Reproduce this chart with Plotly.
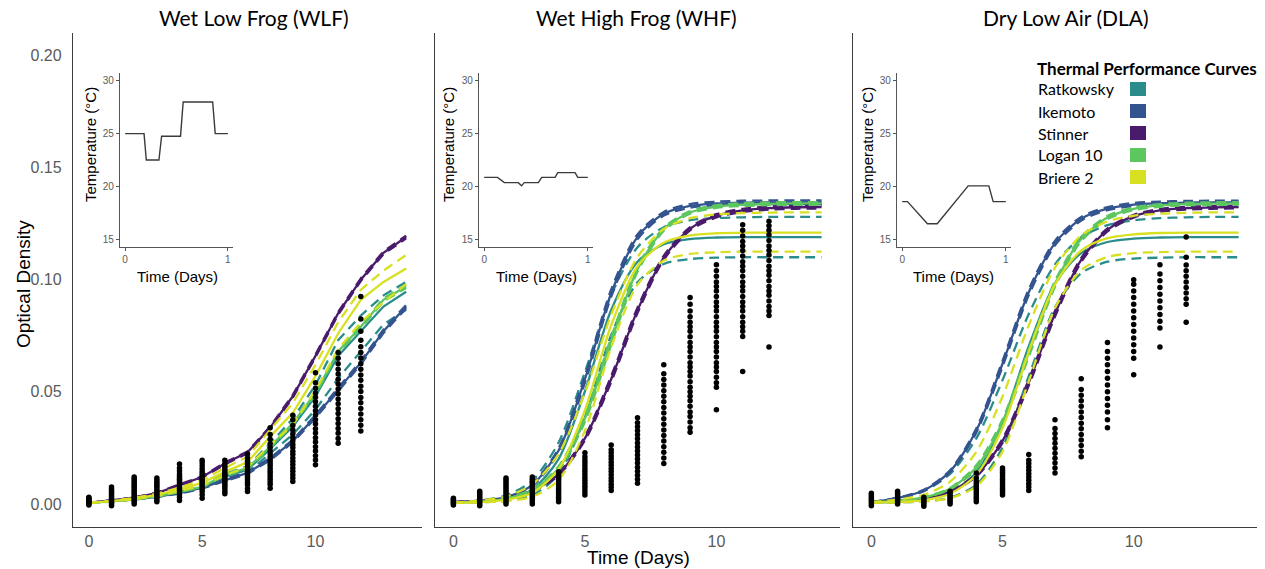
import plotly.graph_objects as go

W, H = 1265, 569

# ---------------- data ----------------
days = list(range(15))            # model prediction days
obs_days = list(range(13))        # observation days

models = ["Ratkowsky", "Ikemoto", "Stinner", "Logan 10", "Briere 2"]
model_colors = ["#2A8D8B", "#34548F", "#4A1B6C", "#5CC65F", "#D8E022"]
panel_titles = ["Wet Low Frog (WLF)", "Wet High Frog (WHF)", "Dry Low Air (DLA)"]

# inset temperature profiles (time in days, temperature in C)
wlf_temp_t = [0, 0.184, 0.206, 0.329, 0.355, 0.539, 0.565, 0.852, 0.877, 1.0]
wlf_temp = [25, 25, 22.5, 22.5, 24.75, 24.75, 28, 28, 25, 25]
whf_temp_t = [0, 0.129, 0.194, 0.329, 0.361, 0.387, 0.523, 0.555, 0.684, 0.71, 0.877, 0.903, 1.0]
whf_temp = [20.85, 20.85, 20.35, 20.35, 20.05, 20.35, 20.35, 20.85, 20.85, 21.3, 21.3, 20.85, 20.85]
dla_temp_t = [0, 0.051, 0.244, 0.338, 0.637, 0.836, 0.878, 1.0]
dla_temp = [18.55, 18.55, 16.45, 16.45, 20.05, 20.05, 18.55, 18.55]

# ---- WLF model curves (mid = solid, lo / hi = dashed) ----
wlf_ratkowsky_mid = [0.0005, 0.0011, 0.0020, 0.0033, 0.0052, 0.0073, 0.0122, 0.0152, 0.0245, 0.0345, 0.0480, 0.0660, 0.0770, 0.0880, 0.0946]
wlf_ratkowsky_lo = [0.0005, 0.0010, 0.0019, 0.0031, 0.0049, 0.0068, 0.0112, 0.0140, 0.0225, 0.0310, 0.0420, 0.0560, 0.0680, 0.0800, 0.0866]
wlf_ratkowsky_hi = [0.0005, 0.0012, 0.0022, 0.0036, 0.0057, 0.0080, 0.0133, 0.0168, 0.0270, 0.0380, 0.0530, 0.0730, 0.0840, 0.0930, 0.0990]
wlf_ikemoto_mid = [0.0005, 0.0012, 0.0022, 0.0032, 0.0048, 0.0072, 0.0105, 0.0138, 0.0200, 0.0280, 0.0390, 0.0510, 0.0630, 0.0770, 0.0880]
wlf_ikemoto_lo = [0.0005, 0.0012, 0.0021, 0.0031, 0.0046, 0.0069, 0.0101, 0.0134, 0.0195, 0.0274, 0.0383, 0.0502, 0.0622, 0.0762, 0.0873]
wlf_ikemoto_hi = [0.0005, 0.0012, 0.0023, 0.0033, 0.0050, 0.0075, 0.0109, 0.0142, 0.0205, 0.0286, 0.0397, 0.0518, 0.0638, 0.0778, 0.0887]
wlf_stinner_mid = [0.0005, 0.0015, 0.0028, 0.0048, 0.0085, 0.0120, 0.0180, 0.0230, 0.0340, 0.0480, 0.0660, 0.0850, 0.1000, 0.1120, 0.1190]
wlf_stinner_lo = [0.0005, 0.0015, 0.0027, 0.0046, 0.0083, 0.0117, 0.0176, 0.0226, 0.0335, 0.0474, 0.0654, 0.0844, 0.0994, 0.1114, 0.1184]
wlf_stinner_hi = [0.0005, 0.0015, 0.0029, 0.0050, 0.0087, 0.0123, 0.0184, 0.0234, 0.0345, 0.0486, 0.0666, 0.0856, 0.1006, 0.1126, 0.1196]
wlf_logan_mid = [0.0005, 0.0011, 0.0021, 0.0034, 0.0054, 0.0076, 0.0130, 0.0160, 0.0255, 0.0360, 0.0495, 0.0680, 0.0790, 0.0910, 0.0970]
wlf_logan_lo = [0.0005, 0.0011, 0.0020, 0.0033, 0.0052, 0.0073, 0.0126, 0.0156, 0.0249, 0.0354, 0.0488, 0.0673, 0.0783, 0.0903, 0.0963]
wlf_logan_hi = [0.0005, 0.0011, 0.0022, 0.0035, 0.0056, 0.0079, 0.0134, 0.0164, 0.0261, 0.0366, 0.0502, 0.0687, 0.0797, 0.0917, 0.0977]
wlf_briere_mid = [0.0005, 0.0012, 0.0024, 0.0040, 0.0065, 0.0094, 0.0143, 0.0187, 0.0300, 0.0406, 0.0570, 0.0760, 0.0910, 0.0990, 0.1050]
wlf_briere_lo = [0.0005, 0.0011, 0.0021, 0.0035, 0.0057, 0.0083, 0.0128, 0.0165, 0.0262, 0.0355, 0.0505, 0.0690, 0.0810, 0.0900, 0.0980]
wlf_briere_hi = [0.0005, 0.0013, 0.0027, 0.0045, 0.0073, 0.0105, 0.0160, 0.0210, 0.0330, 0.0450, 0.0620, 0.0810, 0.0955, 0.1040, 0.1110]

# ---- WHF model curves ----
whf_ratkowsky_mid = [0.0006, 0.0010, 0.0022, 0.0065, 0.0200, 0.0502, 0.0865, 0.1080, 0.1158, 0.1181, 0.1188, 0.1190, 0.1190, 0.1190, 0.1190]
whf_ratkowsky_lo = [0.0005, 0.0007, 0.0014, 0.0039, 0.0132, 0.0386, 0.0753, 0.0988, 0.1070, 0.1092, 0.1098, 0.1100, 0.1100, 0.1100, 0.1100]
whf_ratkowsky_hi = [0.0007, 0.0016, 0.0038, 0.0104, 0.0274, 0.0588, 0.0932, 0.1145, 0.1234, 0.1265, 0.1275, 0.1278, 0.1280, 0.1280, 0.1280]
whf_ikemoto_mid = [0.0007, 0.0013, 0.0030, 0.0085, 0.0238, 0.0556, 0.0940, 0.1191, 0.1294, 0.1329, 0.1340, 0.1344, 0.1345, 0.1345, 0.1345]
whf_ikemoto_lo = [0.0007, 0.0013, 0.0028, 0.0080, 0.0228, 0.0541, 0.0924, 0.1180, 0.1286, 0.1321, 0.1332, 0.1336, 0.1337, 0.1337, 0.1337]
whf_ikemoto_hi = [0.0007, 0.0013, 0.0032, 0.0090, 0.0248, 0.0571, 0.0956, 0.1202, 0.1302, 0.1337, 0.1348, 0.1352, 0.1353, 0.1353, 0.1353]
whf_stinner_mid = [0.0008, 0.0013, 0.0026, 0.0058, 0.0133, 0.0292, 0.0557, 0.0863, 0.1098, 0.1227, 0.1285, 0.1309, 0.1319, 0.1323, 0.1324]
whf_stinner_lo = [0.0008, 0.0013, 0.0025, 0.0055, 0.0128, 0.0283, 0.0544, 0.0851, 0.1089, 0.1220, 0.1278, 0.1302, 0.1312, 0.1316, 0.1317]
whf_stinner_hi = [0.0008, 0.0013, 0.0027, 0.0061, 0.0138, 0.0301, 0.0570, 0.0875, 0.1107, 0.1234, 0.1292, 0.1316, 0.1326, 0.1330, 0.1331]
whf_logan_mid = [0.0007, 0.0011, 0.0024, 0.0061, 0.0159, 0.0381, 0.0727, 0.1046, 0.1225, 0.1300, 0.1326, 0.1335, 0.1338, 0.1340, 0.1340]
whf_logan_lo = [0.0007, 0.0011, 0.0022, 0.0057, 0.0150, 0.0366, 0.0711, 0.1035, 0.1218, 0.1294, 0.1320, 0.1329, 0.1332, 0.1334, 0.1334]
whf_logan_hi = [0.0007, 0.0011, 0.0026, 0.0065, 0.0168, 0.0396, 0.0743, 0.1057, 0.1232, 0.1306, 0.1332, 0.1341, 0.1344, 0.1346, 0.1346]
whf_briere_mid = [0.0005, 0.0008, 0.0018, 0.0050, 0.0155, 0.0418, 0.0797, 0.1060, 0.1165, 0.1197, 0.1207, 0.1210, 0.1210, 0.1210, 0.1210]
whf_briere_lo = [0.0005, 0.0007, 0.0012, 0.0032, 0.0106, 0.0326, 0.0699, 0.0978, 0.1085, 0.1115, 0.1122, 0.1125, 0.1125, 0.1125, 0.1125]
whf_briere_hi = [0.0006, 0.0015, 0.0033, 0.0087, 0.0223, 0.0495, 0.0843, 0.1101, 0.1226, 0.1274, 0.1291, 0.1297, 0.1299, 0.1300, 0.1300]

# ---- DLA model curves ----
dla_ratkowsky_mid = [0.0006, 0.0009, 0.0019, 0.0050, 0.0141, 0.0362, 0.0703, 0.0984, 0.1119, 0.1168, 0.1183, 0.1188, 0.1190, 0.1190, 0.1190]
dla_ratkowsky_lo = [0.0005, 0.0007, 0.0011, 0.0028, 0.0085, 0.0252, 0.0570, 0.0877, 0.1029, 0.1080, 0.1094, 0.1098, 0.1100, 0.1100, 0.1100]
dla_ratkowsky_hi = [0.0008, 0.0026, 0.0058, 0.0134, 0.0292, 0.0552, 0.0847, 0.1068, 0.1189, 0.1243, 0.1265, 0.1274, 0.1278, 0.1280, 0.1280]
dla_ikemoto_mid = [0.0008, 0.0026, 0.0060, 0.0145, 0.0327, 0.0625, 0.0944, 0.1163, 0.1272, 0.1317, 0.1335, 0.1341, 0.1344, 0.1345, 0.1345]
dla_ikemoto_lo = [0.0008, 0.0025, 0.0057, 0.0140, 0.0318, 0.0612, 0.0931, 0.1153, 0.1264, 0.1310, 0.1328, 0.1334, 0.1337, 0.1338, 0.1338]
dla_ikemoto_hi = [0.0008, 0.0027, 0.0063, 0.0150, 0.0336, 0.0638, 0.0957, 0.1173, 0.1280, 0.1324, 0.1342, 0.1348, 0.1351, 0.1352, 0.1352]
dla_stinner_mid = [0.0008, 0.0013, 0.0025, 0.0055, 0.0127, 0.0281, 0.0541, 0.0848, 0.1088, 0.1222, 0.1283, 0.1309, 0.1319, 0.1322, 0.1324]
dla_stinner_lo = [0.0008, 0.0013, 0.0024, 0.0052, 0.0122, 0.0272, 0.0528, 0.0836, 0.1079, 0.1215, 0.1277, 0.1303, 0.1313, 0.1316, 0.1318]
dla_stinner_hi = [0.0008, 0.0013, 0.0026, 0.0058, 0.0132, 0.0290, 0.0554, 0.0860, 0.1097, 0.1229, 0.1289, 0.1315, 0.1325, 0.1328, 0.1330]
dla_logan_mid = [0.0008, 0.0014, 0.0029, 0.0068, 0.0164, 0.0364, 0.0673, 0.0981, 0.1181, 0.1277, 0.1316, 0.1331, 0.1337, 0.1339, 0.1340]
dla_logan_lo = [0.0008, 0.0014, 0.0028, 0.0065, 0.0156, 0.0351, 0.0657, 0.0968, 0.1172, 0.1270, 0.1310, 0.1325, 0.1331, 0.1333, 0.1334]
dla_logan_hi = [0.0008, 0.0014, 0.0030, 0.0071, 0.0172, 0.0377, 0.0689, 0.0994, 0.1190, 0.1284, 0.1322, 0.1337, 0.1343, 0.1345, 0.1346]
dla_briere_mid = [0.0006, 0.0009, 0.0017, 0.0045, 0.0130, 0.0339, 0.0679, 0.0979, 0.1130, 0.1185, 0.1202, 0.1208, 0.1210, 0.1210, 0.1210]
dla_briere_lo = [0.0005, 0.0007, 0.0011, 0.0026, 0.0078, 0.0233, 0.0547, 0.0873, 0.1043, 0.1101, 0.1118, 0.1123, 0.1125, 0.1125, 0.1125]
dla_briere_hi = [0.0008, 0.0019, 0.0041, 0.0099, 0.0232, 0.0479, 0.0796, 0.1054, 0.1197, 0.1260, 0.1285, 0.1294, 0.1298, 0.1300, 0.1300]

# ---- observed optical density, one list per day (0..12) ----
wlf_obs = [
    [-0.0005, 0.0, 0.0004, 0.0008, 0.0012, 0.0016, 0.0021, 0.0026, 0.003],
    [-0.0008, 0.0, 0.0007, 0.0014, 0.0021, 0.0029, 0.0036, 0.0044, 0.0051, 0.0059, 0.0067, 0.0075],
    [0.0, 0.0008, 0.0015, 0.0024, 0.0031, 0.004, 0.0047, 0.0056, 0.0063, 0.0072, 0.0079, 0.0088, 0.0096, 0.0104, 0.0112, 0.012],
    [0.001, 0.0019, 0.0027, 0.0034, 0.0043, 0.005, 0.0059, 0.0066, 0.0075, 0.0082, 0.0091, 0.0098, 0.0107, 0.0115],
    [0.0015, 0.003, 0.0042, 0.0054, 0.0063, 0.0071, 0.008, 0.0088, 0.0096, 0.0103, 0.011, 0.0118, 0.0126, 0.0135, 0.0148, 0.016, 0.0178],
    [0.0025, 0.0041, 0.0055, 0.0067, 0.0077, 0.0085, 0.0093, 0.0102, 0.0109, 0.0118, 0.0126, 0.0134, 0.0145, 0.0157, 0.017, 0.0183, 0.0195],
    [0.0045, 0.0056, 0.0068, 0.0078, 0.0087, 0.0096, 0.0103, 0.0112, 0.012, 0.0128, 0.0137, 0.0147, 0.0157, 0.0168, 0.018, 0.0195],
    [0.0055, 0.0069, 0.0085, 0.0097, 0.0108, 0.0118, 0.0127, 0.0137, 0.0145, 0.0155, 0.0166, 0.0178, 0.019, 0.0205, 0.0222],
    [0.007, 0.0086, 0.0098, 0.011, 0.0122, 0.0135, 0.0146, 0.0158, 0.0171, 0.0182, 0.0195, 0.0208, 0.0222, 0.0236, 0.0251, 0.0268, 0.0288, 0.031, 0.034],
    [0.010, 0.0116, 0.013, 0.0146, 0.016, 0.0176, 0.019, 0.0205, 0.0221, 0.0235, 0.0251, 0.0265, 0.0281, 0.0296, 0.0312, 0.033, 0.035, 0.0375, 0.0395],
    [0.0175, 0.0196, 0.0215, 0.0236, 0.0255, 0.0276, 0.0295, 0.0316, 0.0335, 0.0356, 0.0375, 0.0396, 0.0415, 0.0436, 0.0455, 0.0476, 0.0495, 0.0516, 0.054, 0.0585],
    [0.027, 0.0292, 0.0315, 0.0336, 0.0359, 0.038, 0.0403, 0.0424, 0.0447, 0.0468, 0.0491, 0.0512, 0.0535, 0.0556, 0.0579, 0.06, 0.0625, 0.065, 0.0675],
    [0.0325, 0.0351, 0.0375, 0.0401, 0.0425, 0.0451, 0.0475, 0.0501, 0.0525, 0.0551, 0.0575, 0.0601, 0.0625, 0.0651, 0.0675, 0.0701, 0.073, 0.077, 0.0825, 0.0925],
]
whf_obs = [
    [-0.0005, 0.0, 0.0005, 0.001, 0.0015, 0.002, 0.0025],
    [-0.0008, 0.0, 0.0008, 0.0016, 0.0024, 0.0032, 0.004, 0.0048, 0.0056],
    [0.0, 0.0009, 0.0018, 0.0027, 0.0036, 0.0045, 0.0054, 0.0063, 0.0072, 0.0081, 0.009, 0.0099, 0.0108, 0.0116],
    [0.0, 0.001, 0.002, 0.003, 0.004, 0.005, 0.006, 0.007, 0.008, 0.009, 0.0100, 0.011, 0.012],
    [0.001, 0.002, 0.003, 0.004, 0.005, 0.006, 0.007, 0.008, 0.009, 0.010, 0.011, 0.012, 0.013, 0.0143],
    [0.004, 0.0053, 0.0066, 0.0079, 0.0092, 0.0105, 0.0118, 0.0131, 0.0144, 0.0157, 0.017, 0.0183, 0.0196, 0.021, 0.0228],
    [0.006, 0.0074, 0.0088, 0.0102, 0.0116, 0.013, 0.0144, 0.0158, 0.0172, 0.0186, 0.02, 0.0214, 0.0228, 0.0242, 0.0263],
    [0.0092, 0.011, 0.0128, 0.0146, 0.0164, 0.0182, 0.02, 0.0218, 0.0236, 0.0254, 0.0272, 0.029, 0.0308, 0.0326, 0.0344, 0.0362, 0.0384],
    [0.018, 0.0205, 0.023, 0.0255, 0.028, 0.0305, 0.033, 0.0355, 0.038, 0.0405, 0.043, 0.0455, 0.048, 0.0505, 0.053, 0.0555, 0.058, 0.062],
    [0.032, 0.034, 0.0365, 0.039, 0.041, 0.0435, 0.046, 0.048, 0.050, 0.052, 0.0545, 0.057, 0.059, 0.061, 0.063, 0.0655, 0.068, 0.070, 0.072, 0.0745, 0.077, 0.079, 0.081, 0.0835, 0.086, 0.089, 0.092],
    [0.042, 0.052, 0.054, 0.0565, 0.059, 0.061, 0.063, 0.0655, 0.068, 0.070, 0.072, 0.0745, 0.077, 0.079, 0.081, 0.0835, 0.086, 0.088, 0.090, 0.0925, 0.095, 0.097, 0.099, 0.1015, 0.104, 0.1067],
    [0.059, 0.0746, 0.077, 0.079, 0.081, 0.0835, 0.086, 0.088, 0.090, 0.0925, 0.095, 0.097, 0.099, 0.1015, 0.104, 0.106, 0.108, 0.1105, 0.113, 0.115, 0.117, 0.1195, 0.122, 0.1245],
    [0.070, 0.084, 0.086, 0.088, 0.0905, 0.093, 0.095, 0.097, 0.0995, 0.102, 0.104, 0.106, 0.1085, 0.111, 0.113, 0.115, 0.1175, 0.120, 0.122, 0.124, 0.126],
]
dla_obs = [
    [-0.0008, 0.0, 0.0008, 0.0016, 0.0024, 0.0032, 0.004, 0.0048],
    [0.0, 0.0008, 0.0016, 0.0024, 0.0032, 0.004, 0.0048, 0.0056],
    [-0.001, -0.0002, 0.0006, 0.0014, 0.0022, 0.003],
    [0.0, 0.0008, 0.0016, 0.0024, 0.0032, 0.004, 0.0048, 0.0056],
    [0.001, 0.002, 0.003, 0.004, 0.005, 0.006, 0.007, 0.008, 0.009, 0.010, 0.0115, 0.0138],
    [0.004, 0.005, 0.006, 0.007, 0.008, 0.009, 0.010, 0.011, 0.012, 0.013, 0.014, 0.015, 0.016],
    [0.006, 0.0075, 0.009, 0.0105, 0.012, 0.0135, 0.015, 0.0165, 0.018, 0.0195, 0.022],
    [0.0138, 0.016, 0.0182, 0.0204, 0.0226, 0.0248, 0.027, 0.0292, 0.0314, 0.0336, 0.0375],
    [0.021, 0.0235, 0.026, 0.0285, 0.031, 0.0335, 0.036, 0.0385, 0.041, 0.0435, 0.046, 0.0485, 0.051, 0.0558],
    [0.034, 0.0375, 0.041, 0.044, 0.047, 0.050, 0.053, 0.056, 0.059, 0.062, 0.065, 0.068, 0.072],
    [0.0576, 0.065, 0.068, 0.071, 0.074, 0.077, 0.080, 0.083, 0.086, 0.089, 0.092, 0.095, 0.098, 0.100],
    [0.070, 0.0785, 0.0815, 0.0845, 0.0875, 0.0905, 0.0935, 0.0965, 0.0995, 0.1025, 0.1067],
    [0.081, 0.089, 0.0915, 0.094, 0.0965, 0.099, 0.1015, 0.104, 0.1065, 0.110, 0.119],
]

y_ticks = [0.0, 0.05, 0.10, 0.15, 0.20]
y_tick_text = ["0.00", "0.05", "0.10", "0.15", "0.20"]
x_ticks = [0, 5, 10]
temp_ticks = [15, 20, 25, 30]
inset_x_ticks = [0, 1]

# ---------------- assemble ----------------
curves = [
    {"Ratkowsky": (wlf_ratkowsky_mid, wlf_ratkowsky_lo, wlf_ratkowsky_hi),
     "Ikemoto": (wlf_ikemoto_mid, wlf_ikemoto_lo, wlf_ikemoto_hi),
     "Stinner": (wlf_stinner_mid, wlf_stinner_lo, wlf_stinner_hi),
     "Logan 10": (wlf_logan_mid, wlf_logan_lo, wlf_logan_hi),
     "Briere 2": (wlf_briere_mid, wlf_briere_lo, wlf_briere_hi)},
    {"Ratkowsky": (whf_ratkowsky_mid, whf_ratkowsky_lo, whf_ratkowsky_hi),
     "Ikemoto": (whf_ikemoto_mid, whf_ikemoto_lo, whf_ikemoto_hi),
     "Stinner": (whf_stinner_mid, whf_stinner_lo, whf_stinner_hi),
     "Logan 10": (whf_logan_mid, whf_logan_lo, whf_logan_hi),
     "Briere 2": (whf_briere_mid, whf_briere_lo, whf_briere_hi)},
    {"Ratkowsky": (dla_ratkowsky_mid, dla_ratkowsky_lo, dla_ratkowsky_hi),
     "Ikemoto": (dla_ikemoto_mid, dla_ikemoto_lo, dla_ikemoto_hi),
     "Stinner": (dla_stinner_mid, dla_stinner_lo, dla_stinner_hi),
     "Logan 10": (dla_logan_mid, dla_logan_lo, dla_logan_hi),
     "Briere 2": (dla_briere_mid, dla_briere_lo, dla_briere_hi)},
]
observations = [wlf_obs, whf_obs, dla_obs]
temps = [(wlf_temp_t, wlf_temp), (whf_temp_t, whf_temp), (dla_temp_t, dla_temp)]
smooth = [False, True, True]

fig = go.Figure()

for p in range(3):
    xa = "x" if p == 0 else f"x{p + 1}"
    ya = "y" if p == 0 else f"y{p + 1}"
    shape = "spline" if smooth[p] else "linear"
    for m, col in zip(models, model_colors):
        mid, lo, hi = curves[p][m]
        for arr, dash in ((lo, "10px,6px"), (hi, "10px,6px"), (mid, "solid")):
            fig.add_trace(go.Scatter(
                x=days, y=arr, mode="lines", xaxis=xa, yaxis=ya,
                line=dict(color=col, width=2.3, dash=dash, shape=shape, smoothing=0.8),
                showlegend=False, hoverinfo="skip"))
    ox, oy = [], []
    for d, vals in zip(obs_days, observations[p]):
        ox.extend([d] * len(vals))
        oy.extend(vals)
    fig.add_trace(go.Scatter(
        x=ox, y=oy, mode="markers", xaxis=xa, yaxis=ya,
        marker=dict(color="black", size=5.5, line=dict(width=0)),
        showlegend=False, hoverinfo="skip"))
    # inset
    ixa, iya = f"x{p + 4}", f"y{p + 4}"
    tt, tv = temps[p]
    fig.add_trace(go.Scatter(
        x=tt, y=tv, mode="lines", xaxis=ixa, yaxis=iya,
        line=dict(color="#3a3a3a", width=1.4), showlegend=False, hoverinfo="skip"))

main_x_dom = [[73 / W, 422 / W], [435 / W, 840 / W], [853 / W, 1257 / W]]
main_y_dom = [1 - 527 / H, 1 - 33 / H]
inset_x_dom = [[120 / W, 233 / W], [479 / W, 593 / W], [897 / W, 1011 / W]]
inset_y_dom = [1 - 247 / H, 1 - 73 / H]

axis_col = "#3c3c3c"
tick_col = "#5a5a5a"
layout = dict(
    width=W, height=H, margin=dict(l=0, r=0, t=0, b=0),
    paper_bgcolor="white", plot_bgcolor="rgba(0,0,0,0)",
    font=dict(family="Liberation Sans, Arial, sans-serif", color="black"),
    showlegend=False,
)
for p in range(3):
    xk = "xaxis" if p == 0 else f"xaxis{p + 1}"
    yk = "yaxis" if p == 0 else f"yaxis{p + 1}"
    ya = "y" if p == 0 else f"y{p + 1}"
    xa = "x" if p == 0 else f"x{p + 1}"
    layout[xk] = dict(domain=main_x_dom[p], anchor=ya, range=[-0.7, 14.7],
                      tickvals=x_ticks, showline=True, linecolor=axis_col, linewidth=1.3,
                      ticks="", ticklen=0, showgrid=False, zeroline=False, ticklabelstandoff=0,
                      tickfont=dict(size=16, color=tick_col))
    layout[yk] = dict(domain=main_y_dom, anchor=xa, range=[-0.0103, 0.21],
                      tickvals=y_ticks, ticktext=y_tick_text, showticklabels=(p == 0),
                      showline=True, linecolor=axis_col, linewidth=1.3,
                      ticks="", ticklen=0, showgrid=False, zeroline=False, ticklabelstandoff=7,
                      tickfont=dict(size=16, color=tick_col))
    ixk, iyk = f"xaxis{p + 4}", f"yaxis{p + 4}"
    layout[ixk] = dict(domain=inset_x_dom[p], anchor=f"y{p + 4}", range=[-0.05, 1.05],
                       tickvals=inset_x_ticks, showline=True, linecolor="#555", linewidth=1.2,
                       ticks="outside", ticklen=3, tickcolor="#555", showgrid=False, zeroline=False,
                       tickfont=dict(size=10, color=tick_col))
    layout[iyk] = dict(domain=inset_y_dom, anchor=f"x{p + 4}", range=[14.25, 30.75],
                       tickvals=temp_ticks, showline=True, linecolor="#555", linewidth=1.2,
                       ticks="outside", ticklen=3, tickcolor="#555", showgrid=False, zeroline=False,
                       tickfont=dict(size=10, color=tick_col))

fig.update_layout(**layout)

ann = []
title_cx = [254, 636, 1066]
for p in range(3):
    ann.append(dict(text=panel_titles[p], x=title_cx[p] / W, y=1 - 17 / H, xref="paper", yref="paper",
                    xanchor="center", yanchor="middle", showarrow=False,
                    font=dict(family="Lato, Open Sans, sans-serif", size=21, color="black")))
ann.append(dict(text="Optical Density", x=23 / W, y=1 - 284 / H, xref="paper", yref="paper",
                textangle=-90, xanchor="center", yanchor="middle", showarrow=False,
                font=dict(size=19, color="black")))
ann.append(dict(text="Time (Days)", x=638 / W, y=1 - 557 / H, xref="paper", yref="paper",
                xanchor="center", yanchor="middle", showarrow=False,
                font=dict(size=19, color="black")))
inset_ytitle_x = [90, 448, 867]
inset_xtitle_x = [177, 536, 953]
for p in range(3):
    ann.append(dict(text="Temperature (°C)", x=inset_ytitle_x[p] / W, y=1 - 145 / H,
                    xref="paper", yref="paper", textangle=-90, xanchor="center", yanchor="middle",
                    showarrow=False, font=dict(size=15, color="black")))
    ann.append(dict(text="Time (Days)", x=inset_xtitle_x[p] / W, y=1 - 277 / H,
                    xref="paper", yref="paper", xanchor="center", yanchor="middle",
                    showarrow=False, font=dict(size=15, color="black")))

# legend (manual)
ann.append(dict(text="<b>Thermal Performance Curves</b>", x=1035 / W, y=1 - 68 / H,
                xref="paper", yref="paper", xanchor="left", yanchor="middle", showarrow=False,
                font=dict(family="Lato, Open Sans, sans-serif", size=17, color="black")))
shapes = []
for i, (m, col) in enumerate(zip(models, model_colors)):
    cy = 89 + i * 22
    ann.append(dict(text=m, x=1036 / W, y=1 - cy / H, xref="paper", yref="paper",
                    xanchor="left", yanchor="middle", showarrow=False,
                    font=dict(family="Lato, Open Sans, sans-serif", size=16, color="black")))
    shapes.append(dict(type="rect", xref="paper", yref="paper",
                       x0=1130 / W, x1=1146 / W, y0=1 - (cy + 7) / H, y1=1 - (cy - 7) / H,
                       fillcolor=col, line=dict(width=0)))

fig.update_layout(annotations=ann, shapes=shapes)
fig.write_html("out.html")
